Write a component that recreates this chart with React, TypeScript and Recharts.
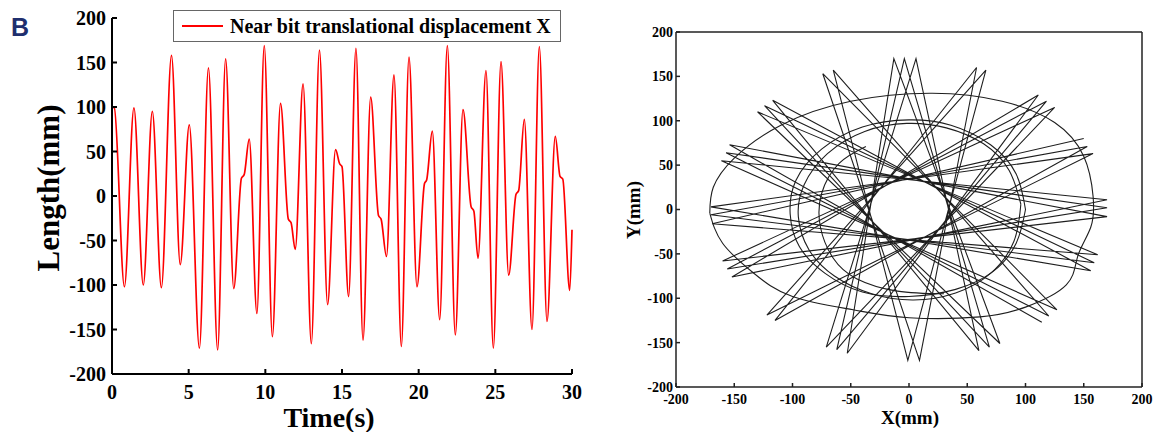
import { LineChart, Line, XAxis, YAxis } from "recharts"

const serif = "'Liberation Serif', 'Times New Roman', serif"

// left panel: near bit X displacement against time
const timeS = [
  0, 0.15, 0.81, 1.43, 2.04, 2.63, 3.22, 3.88, 4.45, 5.04,
  5.7, 6.29, 6.89, 7.41, 7.94, 8.44, 8.62, 8.95, 9.45, 9.93,
  10.46, 10.99, 11.5, 11.68, 11.95, 12.46, 13.0, 13.53, 14.06, 14.58,
  14.85, 15.0, 15.43, 15.91, 16.37, 16.87, 17.38, 17.55, 17.9, 18.39,
  18.87, 19.37, 19.89, 20.38, 20.52, 20.89, 21.37, 21.87, 22.39, 22.89,
  23.42, 23.6, 23.87, 24.39, 24.87, 25.37, 25.87, 26.35, 26.52, 26.89,
  27.39, 27.87, 28.37, 28.91, 29.22, 29.4, 29.85, 30,
]
const lengthMm = [
  100, 99, -102, 99, -100, 95, -103, 158, -77, 80,
  -171, 144, -173, 154, -104, 20, 24, 64, -132, 169,
  -158, 104, -26, -30, -60, 126, -166, 164, -122, 52,
  36, 33, -113, 166, -162, 111, -22, -26, -68, 136,
  -169, 156, -102, 14, 18, 73, -139, 169, -156, 97,
  -12, -17, -70, 141, -171, 151, -89, 2, 6, 86,
  -150, 168, -141, 67, 22, 19, -106, -38,
]
const timeTicks = [0, 5, 10, 15, 20, 25, 30]
const lengthTicks = [-200, -150, -100, -50, 0, 50, 100, 150, 200]

// right panel: whirl trajectory of the bit (X, Y in mm)
const orbitTicks = [-200, -150, -100, -50, 0, 50, 100, 150, 200]

const starX = [
  150, -169, 162, -130, 78, -13, -53, 111, -152, 170,
  -161, 127, -74, 9, 58, -115, 153, -170, 159, -124,
  69, -4, -62, 118, -156, 170, -157, 120, -65, -1,
  66, -122, 158, -170, 156, -117, 60, 6, -71, 125,
  -160, 170, -154, 114,
]
const starY = [
  80, -16, -51, 110, -151, 170, -162, 129, -76, 11,
  55, -113, 153, -170, 160, -125, 71, -6, -60, 117,
  -155, 170, -158, 122, -67, 2, 64, -120, 157, -170,
  157, -119, 63, 3, -69, 123, -159, 170, -155, 115,
  -58, -8, 73, -127,
]

const outerX = [-171, -168, -150, -110, -50, 20, 80, 125, 150, 158, 156, 145, 135, 100, 61, 0, -48, -100, -134, -160, -171]
const outerY = [-4, 25, 58, 95, 122, 131, 122, 98, 60, 15, -20, -52, -85, -110, -121, -122, -113, -98, -71, -38, -4]

const midX = [100, 92, 70, 36, 0, -40, -75, -97, -102, -94, -72, -40, 0, 40, 72, 92, 100]
const midY = [0, 40, 73, 95, 101, 93, 68, 33, -5, -42, -72, -93, -98, -90, -70, -38, 0]

const mid2X = [96, 86, 64, 32, -2, -38, -70, -90, -95, -86, -64, -32, 4, 40, 70, 90, 96]
const mid2Y = [6, 44, 74, 92, 97, 88, 63, 28, -8, -45, -75, -95, -102, -94, -72, -36, 6]

const innerX = [-37, -60, -75, -76, -65, -45, -10, 30]
const innerY = [71, 52, 18, -20, -55, -78, -92, -95]

const timeData = timeS.map((t, i) => ({ t, v: lengthMm[i] }))
const toPoints = (xs: number[], ys: number[]) => xs.map((x, i) => ({ x, y: ys[i] }))

const leftTick = { fontSize: 20, fontWeight: 700, fill: "#000", fontFamily: serif }
const rightTick = { fontSize: 14, fontWeight: 700, fill: "#000", fontFamily: serif }
const blackAxis = { stroke: "#000", strokeWidth: 2 }
const boxAxis = { stroke: "#222", strokeWidth: 1.5 }
const orbitStroke = "#1e1e1e"

function App() {
  return (
    <div style={{ position: "absolute", left: 0, top: 0, width: 1157, height: 432, background: "#fff" }}>
      <svg width={40} height={44} style={{ position: "absolute", left: 0, top: 0 }}>
        <text x={11} y={36} fontFamily="'Liberation Sans', Arial, sans-serif" fontWeight={700} fontSize={25} fill="#1f2f6e">
          B
        </text>
      </svg>

      <div style={{ position: "absolute", left: 0, top: 0 }}>
        <LineChart width={600} height={432} data={timeData} margin={{ top: 18, right: 28, bottom: 26, left: 0 }}>
          <XAxis
            dataKey="t"
            type="number"
            domain={[0, 30]}
            ticks={timeTicks}
            interval={0}
            height={32}
            tickSize={-5}
            tickMargin={16}
            axisLine={blackAxis}
            tickLine={blackAxis}
            tick={leftTick}
            label={() => (
              <text x={329} y={427} textAnchor="middle" fontFamily={serif} fontWeight={700} fontSize={28} fill="#000">
                Time(s)
              </text>
            )}
          />
          <YAxis
            type="number"
            domain={[-200, 200]}
            ticks={lengthTicks}
            interval={0}
            width={112}
            tickSize={-5}
            tickMargin={11}
            axisLine={blackAxis}
            tickLine={blackAxis}
            tick={leftTick}
            label={() => (
              <text
                x={59}
                y={188}
                transform="rotate(-90 59 188)"
                textAnchor="middle"
                fontFamily={serif}
                fontWeight={700}
                fontSize={31}
                fill="#000"
              >
                Length(mm)
              </text>
            )}
          />
          <Line
            dataKey="v"
            type="monotone"
            stroke="#ff0000"
            strokeWidth={1.7}
            dot={false}
            isAnimationActive={false}
          />
        </LineChart>
      </div>

      <div
        style={{
          position: "absolute",
          left: 173,
          top: 10,
          width: 386,
          height: 30,
          border: "1.5px solid #666",
          background: "#fff",
          display: "flex",
          alignItems: "center",
          fontFamily: serif,
          fontWeight: 700,
          fontSize: 20,
          color: "#000",
          whiteSpace: "nowrap",
        }}
      >
        <div style={{ width: 41, height: 2, background: "#ff0000", marginLeft: 8, marginRight: 7 }} />
        Near bit translational displacement X
      </div>

      <div style={{ position: "absolute", left: 600, top: 0 }}>
        <LineChart width={557} height={432} margin={{ top: 31, right: 14, bottom: 25, left: 0 }}>
          <XAxis
            dataKey="x"
            type="number"
            domain={[-200, 200]}
            ticks={orbitTicks}
            interval={0}
            height={20}
            tickSize={-4}
            tickMargin={11}
            axisLine={boxAxis}
            tickLine={boxAxis}
            tick={rightTick}
            label={() => (
              <text x={310} y={424} textAnchor="middle" fontFamily={serif} fontWeight={700} fontSize={19} fill="#000">
                X(mm)
              </text>
            )}
          />
          <XAxis
            xAxisId="top"
            orientation="top"
            dataKey="x"
            type="number"
            domain={[-200, 200]}
            ticks={orbitTicks}
            interval={0}
            height={1}
            tickSize={-4}
            axisLine={boxAxis}
            tickLine={boxAxis}
            tick={false}
          />
          <YAxis
            type="number"
            domain={[-200, 200]}
            ticks={orbitTicks}
            interval={0}
            width={76}
            tickSize={-4}
            tickMargin={7}
            axisLine={boxAxis}
            tickLine={boxAxis}
            tick={rightTick}
            label={() => (
              <text
                x={40}
                y={210}
                transform="rotate(-90 40 210)"
                textAnchor="middle"
                fontFamily={serif}
                fontWeight={700}
                fontSize={19}
                fill="#000"
              >
                Y(mm)
              </text>
            )}
          />
          <YAxis
            yAxisId="right"
            orientation="right"
            type="number"
            domain={[-200, 200]}
            ticks={orbitTicks}
            interval={0}
            width={1}
            tickSize={-4}
            axisLine={boxAxis}
            tickLine={boxAxis}
            tick={false}
          />
          <Line data={toPoints(outerX, outerY)} dataKey="y" type="natural" stroke={orbitStroke} strokeWidth={1.1} dot={false} isAnimationActive={false} />
          <Line data={toPoints(midX, midY)} dataKey="y" type="natural" stroke={orbitStroke} strokeWidth={1.1} dot={false} isAnimationActive={false} />
          <Line data={toPoints(mid2X, mid2Y)} dataKey="y" type="natural" stroke={orbitStroke} strokeWidth={1.1} dot={false} isAnimationActive={false} />
          <Line data={toPoints(innerX, innerY)} dataKey="y" type="natural" stroke={orbitStroke} strokeWidth={1.1} dot={false} isAnimationActive={false} />
          <Line data={toPoints(starX, starY)} dataKey="y" type="linear" stroke={orbitStroke} strokeWidth={1.1} dot={false} isAnimationActive={false} />
        </LineChart>
      </div>
    </div>
  )
}

export default App
